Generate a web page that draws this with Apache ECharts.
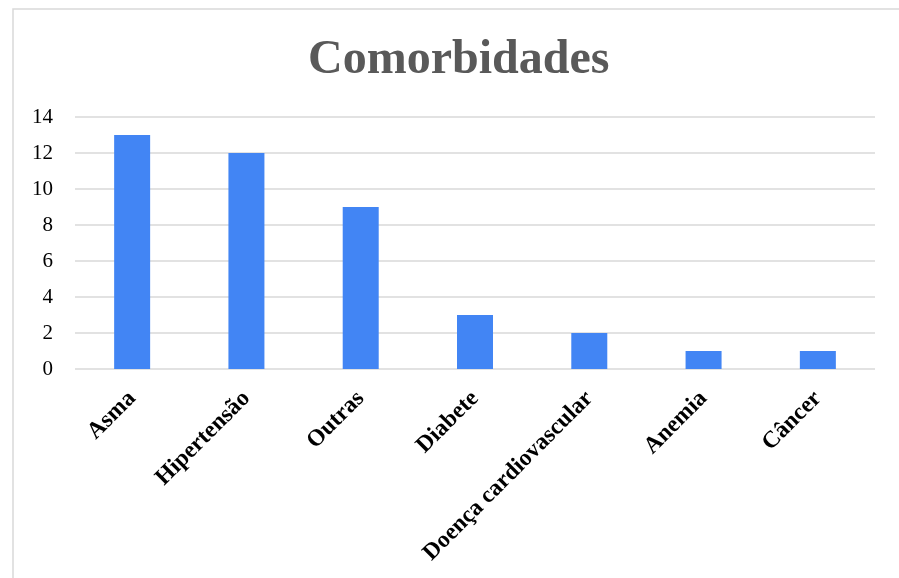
<!DOCTYPE html>
<html>
<head>
<meta charset="utf-8">
<script src="https://cdn.jsdelivr.net/npm/echarts@6/dist/echarts.min.js"></script>
<style>
html,body{margin:0;padding:0;background:#fff;}
#c{width:899px;height:578px;}
</style>
</head>
<body>
<div id="c"></div>
<script>
const categories = ["Asma", "Hipertensão", "Outras", "Diabete", "Doença cardiovascular", "Anemia", "Câncer"];
const values = [13, 12, 9, 3, 2, 1, 1];
const yTicks = { min: 0, max: 14, interval: 2 };
const titleText = "Comorbidades";

const chart = echarts.init(document.getElementById('c'), null, { renderer: 'canvas' });
chart.setOption({
  backgroundColor: '#ffffff',
  animation: false,
  title: {
    text: titleText,
    left: 308,
    top: 37,
    padding: 0,
    textStyle: {
      fontFamily: 'Liberation Serif',
      fontWeight: 'bold',
      fontSize: 48,
      color: '#595959'
    }
  },
  graphic: [{
    type: 'rect',
    shape: { x: 13, y: 9, width: 1000, height: 1000 },
    style: { fill: 'none', stroke: '#d9d9d9', lineWidth: 1.5 },
    silent: true
  }],
  grid: { left: 75, right: 24, top: 117, bottom: 209, containLabel: false },
  xAxis: {
    type: 'category',
    data: categories,
    axisLine: { show: false },
    axisTick: { show: false },
    axisLabel: {
      rotate: 45,
      interval: 0,
      margin: 26,
      fontFamily: 'Liberation Serif',
      fontWeight: 'bold',
      fontSize: 23.5,
      color: '#000000'
    }
  },
  yAxis: {
    type: 'value',
    min: yTicks.min,
    max: yTicks.max,
    interval: yTicks.interval,
    axisLine: { show: false },
    axisTick: { show: false },
    splitLine: { lineStyle: { color: '#d9d9d9', width: 1.5 } },
    axisLabel: {
      margin: 22,
      fontFamily: 'Liberation Serif',
      fontSize: 21,
      color: '#000000'
    }
  },
  series: [{
    type: 'bar',
    data: values,
    barWidth: 36,
    itemStyle: { color: '#4285f4' }
  }]
});
</script>
</body>
</html>
